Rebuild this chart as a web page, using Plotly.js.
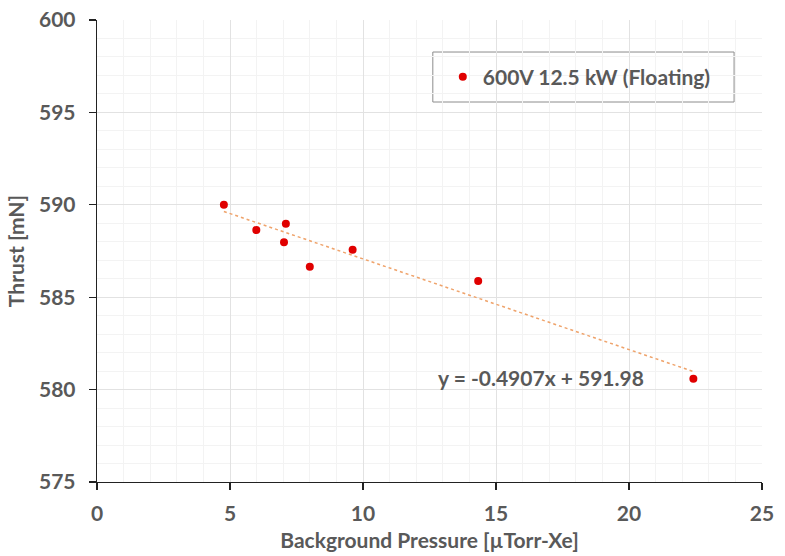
<!DOCTYPE html>
<html>
<head>
<meta charset="utf-8">
<script src="https://cdn.plot.ly/plotly-3.0.1.min.js"></script>
<style>html,body{margin:0;padding:0;background:#fff;}#chart{width:785px;height:556px;}</style>
</head>
<body>
<div id="chart"></div>
<script>
const pressure = [4.77, 5.99, 7.10, 7.03, 8.00, 9.61, 14.33, 22.42];
const thrust = [590.0, 588.64, 588.98, 587.97, 586.65, 587.57, 585.88, 580.59];
const seriesName = '600V 12.5 kW (Floating)';
const slope = -0.4907;
const intercept = 591.98;
const eqText = 'y = -0.4907x + 591.98';
const xTicks = [0, 5, 10, 15, 20, 25];
const yTicks = [575, 580, 585, 590, 595, 600];

const xMin = Math.min(...pressure), xMax = Math.max(...pressure);
const trendX = [xMin, xMax];
const trendY = trendX.map(x => slope * x + intercept);

const fontFam = 'Lato, "Open Sans", sans-serif';
const grey = '#595959';
const fs = 21;

const data = [
  {x: trendX, y: trendY, mode: 'lines', showlegend: false, hoverinfo: 'skip',
   line: {color: '#EFA36B', width: 1.5, dash: 'dot'}},
  {x: pressure, y: thrust, mode: 'markers', name: seriesName,
   marker: {color: '#E00000', size: 8}}
];

const layout = {
  width: 785, height: 556,
  margin: {l: 97, r: 23, t: 20, b: 74},
  paper_bgcolor: '#fff', plot_bgcolor: '#fff',
  font: {family: fontFam, color: grey, size: fs, weight: 'bold'},
  xaxis: {
    range: [0, 25], tickvals: xTicks, ticktext: xTicks.map(String),
    showline: true, linecolor: '#222', linewidth: 1.3,
    ticks: 'outside', ticklen: 7, tickcolor: '#222', tickwidth: 1.3,
    ticklabelstandoff: 5,
    showgrid: true, gridcolor: '#e2e2e2', gridwidth: 1, zeroline: false,
    minor: {dtick: 1, showgrid: true, gridcolor: '#f3f3f3', gridwidth: 1},
    tickfont: {family: fontFam, size: fs, color: grey, weight: 'bold'},
    title: {text: 'Background Pressure [µTorr-Xe]', standoff: 9,
            font: {family: fontFam, size: fs, color: grey, weight: 'bold'}}
  },
  yaxis: {
    range: [575, 600], tickvals: yTicks, ticktext: yTicks.map(String),
    showline: true, linecolor: '#222', linewidth: 1.3,
    ticks: 'outside', ticklen: 7, tickcolor: '#222', tickwidth: 1.3,
    ticklabelstandoff: 9,
    showgrid: true, gridcolor: '#e2e2e2', gridwidth: 1, zeroline: false,
    minor: {dtick: 1, showgrid: true, gridcolor: '#f3f3f3', gridwidth: 1},
    tickfont: {family: fontFam, size: fs, color: grey, weight: 'bold'},
    title: {text: 'Thrust [mN]', standoff: 8,
            font: {family: fontFam, size: fs, color: grey, weight: 'bold'}}
  },
  showlegend: true,
  legend: {x: 0.52, y: 0.8766, xanchor: 'left', yanchor: 'middle',
           bgcolor: 'rgba(0,0,0,0)', borderwidth: 0,
           font: {family: fontFam, size: fs, color: grey, weight: 'bold'}},
  shapes: [{type: 'rect', xref: 'paper', yref: 'paper',
            x0: 0.505, x1: 0.958, y0: 0.8225, y1: 0.9307,
            line: {color: '#8c8c8c', width: 1}, fillcolor: 'rgba(255,255,255,1)', layer: 'below'}],
  annotations: [{xref: 'x', yref: 'y', x: 16.69, y: 580.63, text: eqText, showarrow: false,
                 font: {family: fontFam, size: fs, color: grey, weight: 'bold'}}]
};

Plotly.newPlot('chart', data, layout, {displayModeBar: false, staticPlot: true});
</script>
</body>
</html>
